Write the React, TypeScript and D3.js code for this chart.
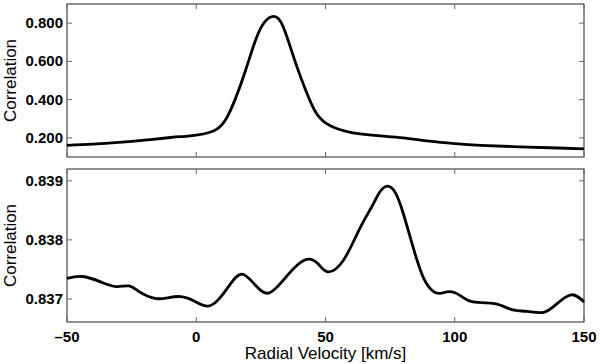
import React, { useEffect, useRef } from "react";
import * as d3 from "d3";

// top panel: cross-correlation of the full spectrum
const topVel = [-50, -40, -30, -20, -10, -5, 0, 5, 8, 10, 12, 15, 19, 23, 26.5, 30, 33.5, 38, 42, 46, 50, 54, 60, 70, 80, 90, 100, 110, 125, 140, 150];
const topCorr = [0.161, 0.167, 0.176, 0.188, 0.202, 0.207, 0.214, 0.228, 0.246, 0.27, 0.31, 0.4, 0.55, 0.713, 0.806, 0.835, 0.785, 0.609, 0.461, 0.339, 0.278, 0.25, 0.228, 0.212, 0.2, 0.183, 0.17, 0.161, 0.153, 0.147, 0.143];

// bottom panel: residual correlation
const botVel = [-50, -44, -37, -31, -26, -22, -16, -11, -6, -1, 4.5, 9, 13, 17.6, 22.7, 28, 33.7, 38, 42.7, 47, 51, 57, 63, 68, 71, 74, 77, 80, 84, 88, 92, 95, 99, 103, 107, 114, 118, 123, 128, 134, 139, 145, 150];
const botCorr = [0.83735, 0.83738, 0.83729, 0.83721, 0.83722, 0.83712, 0.83701, 0.83702, 0.83704, 0.83697, 0.83688, 0.83701, 0.83724, 0.83742, 0.83724, 0.8371, 0.83732, 0.83753, 0.83767, 0.8376, 0.83746, 0.83766, 0.83817, 0.83857, 0.83881, 0.83891, 0.8388, 0.83846, 0.83786, 0.83735, 0.83712, 0.8371, 0.83712, 0.83703, 0.83695, 0.83693, 0.83689, 0.83681, 0.83679, 0.83677, 0.8369, 0.83707, 0.83695];

const xTicks = [-50, 0, 50, 100, 150];
const topTicks = [0.2, 0.4, 0.6, 0.8];
const botTicks = [0.837, 0.838, 0.839];

export default function App() {
  const ref = useRef<SVGSVGElement>(null);

  useEffect(() => {
    const svg = d3.select(ref.current);
    svg.selectAll("*").remove();

    const left = 67, right = 584;
    const x = d3.scaleLinear().domain([-50, 150]).range([left, right]);
    const fmt = d3.format(".3f");

    const drawPanel = (vel: number[], corr: number[], yDomain: number[], yTicks: number[], top: number, bottom: number, showX: boolean) => {
      const y = d3.scaleLinear().domain(yDomain).range([bottom, top]);
      const g = svg.append("g");

      g.append("rect")
        .attr("x", left).attr("y", top)
        .attr("width", right - left).attr("height", bottom - top)
        .attr("fill", "white").attr("stroke", "#222").attr("stroke-width", 1);

      // inward ticks on all four sides
      xTicks.forEach(t => {
        g.append("line").attr("x1", x(t)).attr("x2", x(t)).attr("y1", bottom).attr("y2", bottom - 5).attr("stroke", "#666");
        g.append("line").attr("x1", x(t)).attr("x2", x(t)).attr("y1", top).attr("y2", top + 5).attr("stroke", "#666");
      });
      yTicks.forEach(t => {
        g.append("line").attr("x1", left).attr("x2", left + 5).attr("y1", y(t)).attr("y2", y(t)).attr("stroke", "#666");
        g.append("line").attr("x1", right).attr("x2", right - 5).attr("y1", y(t)).attr("y2", y(t)).attr("stroke", "#666");
        g.append("text")
          .attr("x", left - 4).attr("y", y(t) + 5)
          .attr("text-anchor", "end")
          .style("font-family", "Liberation Sans, Arial, sans-serif")
          .style("font-weight", "bold").style("font-size", "15px")
          .text(fmt(t));
      });

      const line = d3.line<number>()
        .x((d, i) => x(vel[i]))
        .y(d => y(d))
        .curve(d3.curveNatural);
      g.append("path")
        .datum(corr)
        .attr("d", line)
        .attr("fill", "none").attr("stroke", "black").attr("stroke-width", 2.8);

      g.append("text")
        .attr("transform", `translate(16, ${(top + bottom) / 2}) rotate(-90)`)
        .attr("text-anchor", "middle")
        .style("font-family", "Liberation Sans, Arial, sans-serif")
        .style("font-size", "17px")
        .text("Correlation");

      if (showX) {
        xTicks.forEach(t => {
          g.append("text")
            .attr("x", x(t)).attr("y", bottom + 20)
            .attr("text-anchor", "middle")
            .style("font-family", "Liberation Sans, Arial, sans-serif")
            .style("font-weight", "bold").style("font-size", "15px")
            .text(t < 0 ? "\u2013" + Math.abs(t) : String(t));
        });
        g.append("text")
          .attr("x", (left + right) / 2).attr("y", 359)
          .attr("text-anchor", "middle")
          .style("font-family", "Liberation Sans, Arial, sans-serif")
          .style("font-size", "17px")
          .text("Radial Velocity [km/s]");
      }
    };

    drawPanel(topVel, topCorr, [0.1, 0.9], topTicks, 4, 157, false);
    drawPanel(botVel, botCorr, [0.83661, 0.8392], botTicks, 169, 322, true);
  }, []);

  return (
    <svg ref={ref} width={600} height={364} style={{ position: "absolute", left: 0, top: 0, background: "white" }} />
  );
}
